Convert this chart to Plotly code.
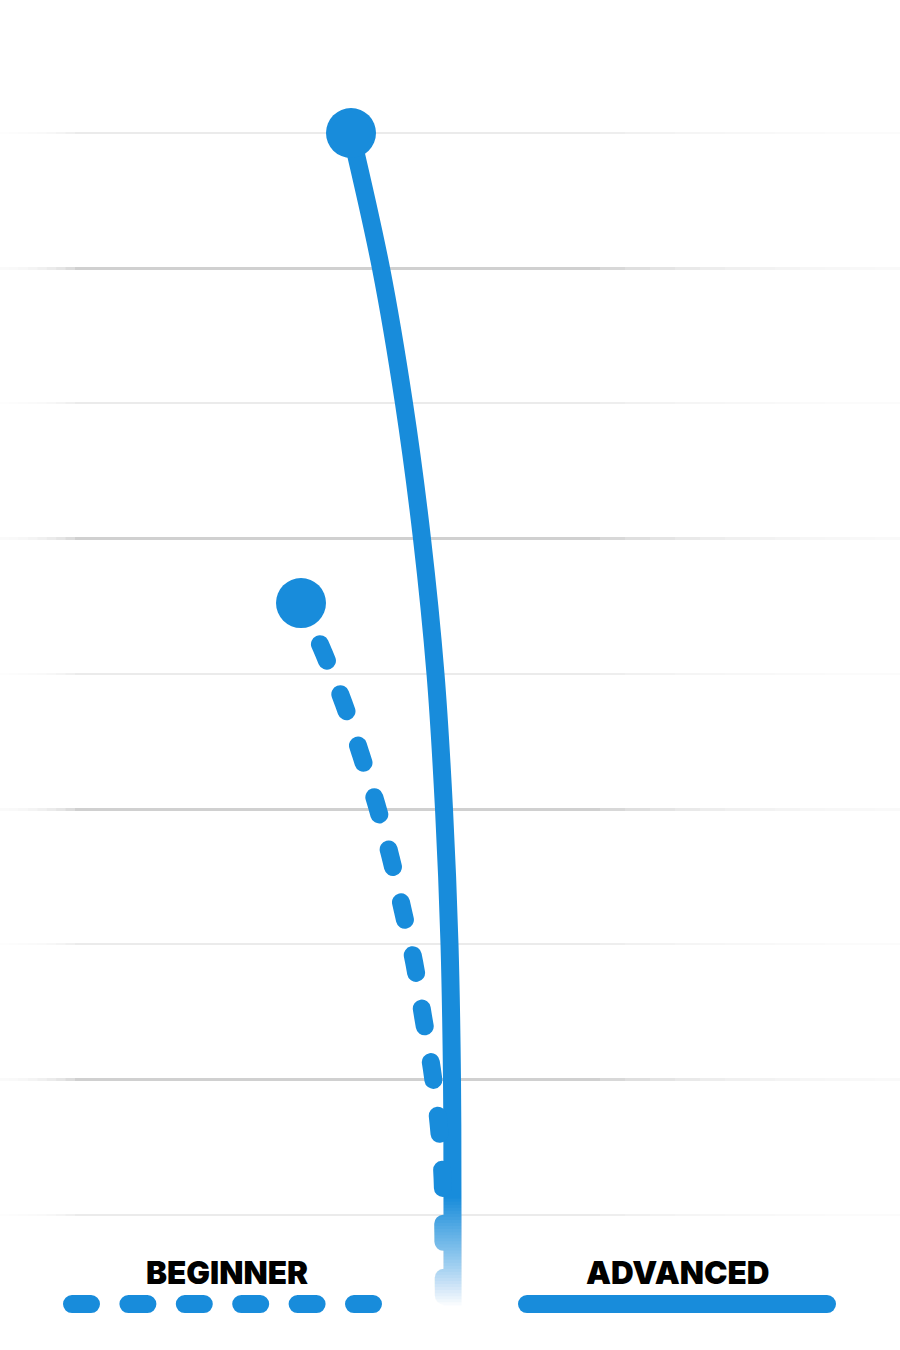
import plotly.graph_objects as go

# ---------------- data ----------------
# Vertical scale: level (gridlines at 1..9). Horizontal: position 0..900.
adv_level = [9, 8, 7, 6, 5, 4, 3, 2, 1, 0.3]
adv_x = [351, 381, 404, 422, 435.5, 444, 449.5, 452, 452.5, 452.5]

beg_level = [5.524, 5.162, 4.790, 4.408, 4.028, 3.641, 3.254, 2.862, 2.469, 2.071,
             1.679, 1.279, 0.887, 0.3]
beg_x = [301, 323.3, 343.3, 360.7, 376.7, 390.7, 402.7, 414.3, 423, 432,
         438.5, 442.5, 443.3, 444]

legend_labels = ["BEGINNER", "ADVANCED"]
legend_label_x = [226.5, 677.5]
legend_label_level = 0.57
legend_line_level = 0.34
legend_beg_x = [72, 373]
legend_adv_x = [527, 827]

major_levels = [2, 4, 6, 8]
minor_levels = [1, 3, 5, 7, 9]

BLUE = "#188CDB"
Y_MAX = 9.9836

fig = go.Figure()

# Advanced (solid)
fig.add_trace(go.Scatter(x=adv_x, y=adv_level, mode="lines",
                         line=dict(color=BLUE, width=18, shape="spline", smoothing=1.0),
                         hoverinfo="skip", showlegend=False))
# Beginner (dashed)
fig.add_trace(go.Scatter(x=beg_x, y=beg_level, mode="lines",
                         line=dict(color=BLUE, width=18, shape="spline", smoothing=1.0,
                                   dash="9px,36.2px,9px,0px"),
                         hoverinfo="skip", showlegend=False))
# Start dots
fig.add_trace(go.Scatter(x=[adv_x[0], beg_x[0]], y=[adv_level[0], beg_level[0]],
                         mode="markers",
                         marker=dict(color=BLUE, size=50, line=dict(width=0)),
                         hoverinfo="skip", showlegend=False))

# Legend lines
fig.add_trace(go.Scatter(x=legend_beg_x, y=[legend_line_level] * 2, mode="lines",
                         line=dict(color=BLUE, width=18, dash="19px,37.4px"),
                         hoverinfo="skip", showlegend=False))
fig.add_trace(go.Scatter(x=legend_adv_x, y=[legend_line_level] * 2, mode="lines",
                         line=dict(color=BLUE, width=18),
                         hoverinfo="skip", showlegend=False))

for lbl, lx in zip(legend_labels, legend_label_x):
    fig.add_annotation(x=lx, y=legend_label_level, text=lbl, showarrow=False,
                       xanchor="center", yanchor="middle",
                       font=dict(family="Inter, Lato, 'Open Sans', sans-serif", size=31.5,
                                 color="#000000", weight=900))

shapes = []
# fade to white at the bottom of the curves (stacked so coverage rises linearly)
n = 36
f_top, f_bot = 1.12, 0.33
for j in range(1, n + 1):
    y1 = f_top - (j - 1) * (f_top - f_bot) / (n - 1)
    shapes.append(dict(type="rect", xref="x", yref="y", x0=412, x1=482, y0=0.0, y1=y1,
                       fillcolor="white", opacity=1.0 / (n - j + 1),
                       line=dict(width=0), layer="above"))
# fade of gridlines at the left edge
for k in range(8):
    shapes.append(dict(type="rect", xref="x", yref="y", x0=0, x1=75 * (k + 1) / 8,
                       y0=0.75, y1=9.6, fillcolor="white", opacity=0.25,
                       line=dict(width=0), layer="above"))
# fade of gridlines at the right edge
for k in range(12):
    shapes.append(dict(type="rect", xref="x", yref="y", x0=900 - 300 * (k + 1) / 12, x1=900,
                       y0=0.75, y1=9.6, fillcolor="white", opacity=0.18,
                       line=dict(width=0), layer="above"))

fig.update_layout(
    width=900, height=1350,
    margin=dict(l=0, r=0, t=0, b=0),
    paper_bgcolor="white", plot_bgcolor="white",
    showlegend=False,
    shapes=shapes,
    xaxis=dict(range=[0, 900], showgrid=False, zeroline=False, showticklabels=False,
               ticks="", showline=False, fixedrange=True),
    yaxis=dict(range=[0, Y_MAX], tickmode="array", tickvals=major_levels,
               showgrid=True, gridcolor="#d0d0d0", gridwidth=3,
               zeroline=False, showticklabels=False, ticks="", showline=False,
               fixedrange=True,
               minor=dict(tickmode="array", tickvals=minor_levels, showgrid=True,
                          gridcolor="#ebebeb", gridwidth=2, ticks="")),
)

post = """
document.body.style.margin = '0';
document.body.style.padding = '0';
var gd = document.getElementById('{plot_id}');
gd.querySelectorAll('.scatterlayer .js-line').forEach(function(p){
  p.style.strokeLinecap = 'round';
});
"""
fig.write_html("out.html", post_script=post,
               config={"displayModeBar": False, "staticPlot": True})
